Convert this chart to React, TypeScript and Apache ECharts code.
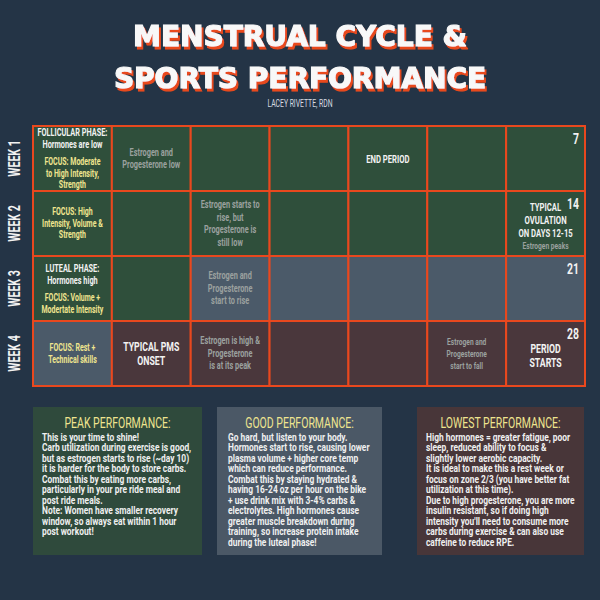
import React, { useEffect, useRef } from "react";
import * as echarts from "echarts";

const weeks = ["WEEK 1", "WEEK 2", "WEEK 3", "WEEK 4"];
const dayCols = ["1", "2", "3", "4", "5", "6", "7"];
// 0 = peak performance, 1 = good performance, 2 = lowest performance
const phaseByWeek = [
  [0, 0, 0, 0, 0, 0, 0],
  [0, 0, 0, 0, 0, 0, 0],
  [0, 0, 1, 1, 1, 1, 1],
  [1, 2, 2, 2, 2, 2, 2],
];
const weekEndDays = [7, 14, 21, 28];
const phaseColors = ["#2f4f3b", "#4b5a69", "#4a373c"];

const cellNotes = [
  { week: 0, col: 0, text: "{u|FOLLICULAR PHASE:}\n{w|Hormones are low}\n{sp| }\n{y|FOCUS: Moderate}\n{y|to High Intensity,}\n{y|Strength}" },
  { week: 0, col: 1, text: "{g|Estrogen and}\n{g|Progesterone low}" },
  { week: 0, col: 4, text: "{b|END PERIOD}" },
  { week: 1, col: 0, text: "{y|FOCUS: High}\n{y|Intensity, Volume &}\n{y|Strength}" },
  { week: 1, col: 2, text: "{g|Estrogen starts to}\n{g|rise, but}\n{g|Progesterone is}\n{g|still low}" },
  { week: 1, col: 6, text: "{sp| }\n{b|TYPICAL}\n{b|OVULATION}\n{b|ON DAYS 12-15}\n{gs|Estrogen peaks}" },
  { week: 2, col: 0, text: "{u|LUTEAL PHASE:}\n{w|Hormones high}\n{sp| }\n{y|FOCUS: Volume +}\n{y|Modertate Intensity}" },
  { week: 2, col: 2, text: "{g|Estrogen and}\n{g|Progesterone}\n{g|start to rise}" },
  { week: 3, col: 0, text: "{y|FOCUS: Rest +}\n{y|Technical skills}" },
  { week: 3, col: 1, text: "{big|TYPICAL PMS}\n{big|ONSET}" },
  { week: 3, col: 2, text: "{g|Estrogen is high &}\n{g|Progesterone}\n{g|is at its peak}" },
  { week: 3, col: 5, text: "{gs|Estrogen and}\n{gs|Progesterone}\n{gs|start to fall}" },
  { week: 3, col: 6, text: "{sp| }\n{big|PERIOD}\n{big|STARTS}" },
];

const boxTitles = ["PEAK PERFORMANCE:", "GOOD PERFORMANCE:", "LOWEST PERFORMANCE:"];
const boxLines = [
  [
    "This is your time to shine!",
    "Carb utilization during exercise is good,",
    "but as estrogen starts to rise (~day 10)",
    "it is harder for the body to store carbs.",
    "Combat this by eating more carbs,",
    "particularly in your pre ride meal and",
    "post ride meals.",
    "Note: Women have smaller recovery",
    "window, so always eat within 1 hour",
    "post workout!",
  ],
  [
    "Go hard, but listen to your body.",
    "Hormones start to rise, causing lower",
    "plasma volume + higher core temp",
    "which can reduce performance.",
    "Combat this by staying hydrated &",
    "having 16-24 oz per hour on the bike",
    "+ use drink mix with 3-4% carbs &",
    "electrolytes. High hormones cause",
    "greater muscle breakdown during",
    "training, so increase protein intake",
    "during the luteal phase!",
  ],
  [
    "High hormones = greater fatigue, poor",
    "sleep, reduced ability to focus &",
    "slightly lower aerobic capacity.",
    "It is ideal to make this a rest week or",
    "focus on zone 2/3 (you have better fat",
    "utilization at this time).",
    "Due to high progesterone, you are more",
    "insulin resistant, so if doing high",
    "intensity you'll need to consume more",
    "carbs during exercise & can also use",
    "caffeine to reduce RPE.",
  ],
];

const FONT = 'Roboto, "Noto Sans", sans-serif';
const BG = "#243446";
const ORANGE = "#e9481e";
const YELLOW = "#efe58f";
const WHITE = "#f2f2f2";
const GRAY = "#9ba19f";

export default function App() {
  const ref = useRef<HTMLDivElement>(null);
  useEffect(() => {
    if (!ref.current) return;
    const chart = echarts.init(ref.current, null, { renderer: "svg" });

    const rich = {
      u: { fill: WHITE, fontFamily: FONT, fontSize: 10.5, fontWeight: "bold", lineHeight: 12.5 },
      w: { fill: WHITE, fontFamily: FONT, fontSize: 10.5, fontWeight: "bold", lineHeight: 12.5 },
      y: { fill: YELLOW, fontFamily: FONT, fontSize: 10, fontWeight: "bold", lineHeight: 11.5 },
      g: { fill: GRAY, fontFamily: FONT, fontSize: 10.5, fontWeight: "bold", lineHeight: 12.5 },
      gs: { fill: GRAY, fontFamily: FONT, fontSize: 9.5, fontWeight: "bold", lineHeight: 12 },
      b: { fill: WHITE, fontFamily: FONT, fontSize: 11, fontWeight: "bold", lineHeight: 13 },
      big: { fill: WHITE, fontFamily: FONT, fontSize: 12.5, fontWeight: "bold", lineHeight: 14 },
      sp: { fontSize: 4, lineHeight: 5 },
    };

    const cells: any[] = [];
    phaseByWeek.forEach((row, w) => {
      row.forEach((p, c) => {
        const note = cellNotes.find((n) => n.week === w && n.col === c);
        cells.push({ value: [c, w, p], note: note ? note.text : "", num: c === 6 ? weekEndDays[w] : null });
      });
    });

    const renderItem = (params: any, api: any) => {
      const c = api.value(0);
      const w = api.value(1);
      const p = api.value(2);
      const pt = api.coord([c, w]);
      const size = api.size([1, 1]);
      const cell = cells[params.dataIndex];
      const children: any[] = [
        {
          type: "rect",
          shape: { x: pt[0] - size[0] / 2, y: pt[1] - size[1] / 2, width: size[0], height: size[1] },
          style: { fill: phaseColors[p], stroke: ORANGE, lineWidth: 2 },
        },
      ];
      if (cell.note) {
        children.push({
          type: "text",
          x: pt[0],
          y: pt[1],
          scaleX: 0.7,
          style: { text: cell.note, rich, fill: WHITE, align: "center", verticalAlign: "middle" },
          z2: 10,
        });
      }
      if (cell.num != null) {
        children.push({
          type: "text",
          x: pt[0] + size[0] / 2 - 6,
          y: pt[1] - size[1] / 2 + 5,
          scaleX: 0.72,
          style: { text: String(cell.num), fill: WHITE, fontFamily: FONT, fontWeight: "bold", fontSize: 14.5, align: "right", verticalAlign: "top" },
          z2: 10,
        });
      }
      if (c === 0) {
        children.push({
          type: "text",
          x: pt[0] - size[0] / 2 - 19,
          y: pt[1],
          rotation: Math.PI / 2,
          scaleX: 0.62,
          style: { text: weeks[w], fill: WHITE, fontFamily: FONT, fontWeight: "bold", fontSize: 17, align: "center", verticalAlign: "middle" },
        });
      }
      return { type: "group", children };
    };

    const graphics: any[] = [];
    const titleLines = [
      { text: "MENSTRUAL CYCLE &", y: 36 },
      { text: "SPORTS PERFORMANCE", y: 78 },
    ];
    titleLines.forEach((t) => {
      graphics.push({
        type: "text",
        x: 300,
        y: t.y,
        style: {
          text: t.text,
          fill: "#f8f8f8",
          stroke: "#f8f8f8",
          lineWidth: 1.2,
          fontFamily: '"DejaVu Sans", sans-serif',
          fontWeight: "bold",
          fontSize: 28,
          align: "center",
          verticalAlign: "middle",
          textShadowColor: ORANGE,
          textShadowBlur: 0.01,
          textShadowOffsetX: 2,
          textShadowOffsetY: 3,
        },
      });
    });
    graphics.push({
      type: "text",
      x: 300,
      y: 103,
      scaleX: 0.68,
      style: { text: "LACEY RIVETTE, RDN", fill: "#d8dbe0", fontFamily: FONT, fontSize: 10, align: "center", verticalAlign: "middle" },
    });

    const boxes = [
      { x: 33, w: 169, color: "#2f4a3c", tx: 42 },
      { x: 217, w: 165, color: "#4b5866", tx: 228 },
      { x: 417, w: 167, color: "#483639", tx: 426 },
    ];
    boxes.forEach((b, i) => {
      graphics.push({ type: "rect", shape: { x: b.x, y: 407, width: b.w, height: 148 }, style: { fill: b.color } });
      graphics.push({
        type: "text",
        x: b.x + b.w / 2,
        y: 423,
        scaleX: 0.7,
        style: { text: boxTitles[i], fill: YELLOW, fontFamily: FONT, fontSize: 15, align: "center", verticalAlign: "middle" },
      });
      graphics.push({
        type: "text",
        x: b.tx,
        y: 431.5,
        scaleX: 0.8,
        style: { text: boxLines[i].join("\n"), fill: "#f0f0f0", fontFamily: FONT, fontWeight: "bold", fontSize: 10.5, lineHeight: 10.5, align: "left", verticalAlign: "top" },
      });
    });

    chart.setOption({
      animation: false,
      backgroundColor: BG,
      grid: { left: 33, right: 15, top: 126, bottom: 214 },
      xAxis: {
        type: "category",
        data: dayCols,
        axisLine: { show: false },
        axisTick: { show: false },
        axisLabel: { show: false },
        splitLine: { show: false },
      },
      yAxis: {
        type: "category",
        data: weeks,
        inverse: true,
        axisLine: { show: false },
        axisTick: { show: false },
        axisLabel: { show: false },
        splitLine: { show: false },
      },
      series: [
        {
          type: "custom",
          renderItem,
          clip: false,
          data: cells.map((c) => c.value),
          encode: { x: 0, y: 1 },
          silent: true,
        },
      ],
      graphic: graphics,
    });

    return () => chart.dispose();
  }, []);

  return <div ref={ref} style={{ width: 600, height: 600, position: "absolute", left: 0, top: 0 }} />;
}
